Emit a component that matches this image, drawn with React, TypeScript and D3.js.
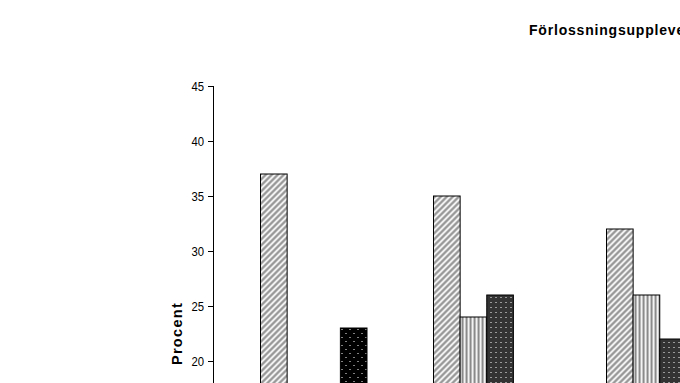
import React from "react";
import * as d3 from "d3";

const groups = ["Grupp 1", "Grupp 2", "Grupp 3"];
const seriesNames = ["Serie A", "Serie B", "Serie C", "Serie D"];
const serieA = [37, 35, 32];
const serieB = [14, 24, 26];
const serieC = [16, 26, 22];
const serieD = [23, 15, 19];
const yTicks = [0, 5, 10, 15, 20, 25, 30, 35, 40, 45];
const title = "Förlossningsupplevelse";
const yLabel = "Procent";

const W = 680;
const H = 383;

export default function App() {
  const values = [serieA, serieB, serieC, serieD];
  const y = d3.scaleLinear().domain([0, 45]).range([581, 86]);
  const step = 173;
  const pi = 0.3844;
  const po = 0.2746;
  const x0Left = 213;
  const x0 = d3
    .scaleBand<string>()
    .domain(groups)
    .range([x0Left, x0Left + step * (groups.length - pi + 2 * po)])
    .paddingInner(pi)
    .paddingOuter(po);
  const x1 = d3
    .scaleBand<string>()
    .domain(seriesNames)
    .range([0, x0.bandwidth()])
    .padding(0);
  const fills = ["url(#hatch)", "url(#vstripe)", "url(#darkdots)", "url(#blackdots)"];
  const font = "'Liberation Sans', Arial, sans-serif";

  return (
    <svg
      width={W}
      height={H}
      style={{ position: "absolute", left: 0, top: 0, background: "#fff" }}
    >
      <defs>
        <pattern id="hatch" width="6" height="6" patternUnits="userSpaceOnUse">
          <rect width="6" height="6" fill="#fff" />
          <path
            d="M-1,7 L7,-1 M-4,4 L4,-4 M2,10 L10,2"
            stroke="#999"
            strokeWidth="2.5"
          />
        </pattern>
        <pattern id="vstripe" width="4" height="4" patternUnits="userSpaceOnUse">
          <rect width="4" height="4" fill="#fff" />
          <rect x="0" width="2.2" height="4" fill="#8a8a8a" />
        </pattern>
        <pattern id="darkdots" width="5" height="5" patternUnits="userSpaceOnUse">
          <rect width="5" height="5" fill="#333" />
          <rect x="2" y="2" width="1" height="1" fill="#fff" />
        </pattern>
        <pattern id="blackdots" width="8" height="8" patternUnits="userSpaceOnUse">
          <rect width="8" height="8" fill="#000" />
          <rect x="1" y="1" width="1" height="1" fill="#fff" />
          <rect x="5" y="5" width="1" height="1" fill="#fff" />
        </pattern>
      </defs>

      <text
        x={529}
        y={35}
        fontFamily={font}
        fontWeight="bold"
        fontSize={14}
        letterSpacing={0.8}
        fill="#000"
      >
        {title}
      </text>

      {groups.map((g, gi) => (
        <g key={g} transform={`translate(${x0(g)},0)`}>
          {seriesNames.map((s, si) => {
            const v = values[si][gi];
            return (
              <rect
                key={s}
                x={x1(s)}
                y={y(v)}
                width={x1.bandwidth()}
                height={y(0) - y(v)}
                fill={fills[si]}
                stroke="#000"
                strokeWidth={1}
              />
            );
          })}
        </g>
      ))}

      <line x1={213.5} x2={213.5} y1={y(45)} y2={y(0)} stroke="#000" strokeWidth={1} />
      {yTicks.map((t) => (
        <g key={t} transform={`translate(0,${Math.round(y(t)) + 0.5})`}>
          <line x1={208} x2={213.5} stroke="#000" strokeWidth={1} />
          <g transform="translate(204,0) scale(0.84,1)">
            <text
              x={0}
              dy="0.36em"
              textAnchor="end"
              fontFamily={font}
              fontSize={13.5}
              fill="#000"
            >
              {t}
            </text>
          </g>
        </g>
      ))}

      <text
        transform={`translate(182,${(y(45) + y(0)) / 2}) rotate(-90)`}
        textAnchor="middle"
        fontFamily={font}
        fontWeight="bold"
        fontSize={14.5}
        letterSpacing={1.3}
        fill="#000"
      >
        {yLabel}
      </text>
    </svg>
  );
}
